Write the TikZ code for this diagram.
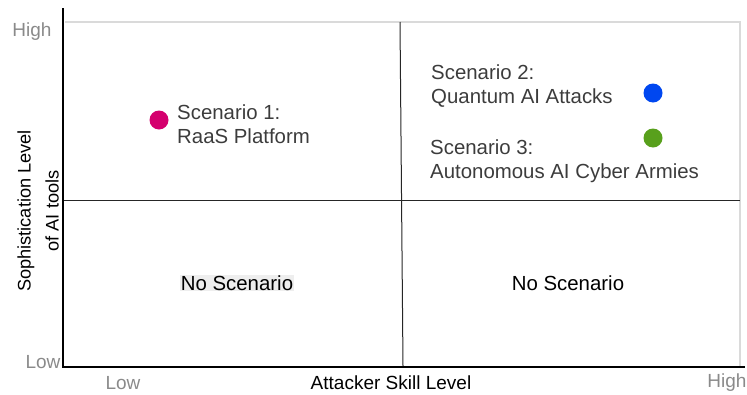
\documentclass[tikz,border=0pt]{standalone}
\usepackage{fontspec}
\setmainfont{Liberation Sans}
\definecolor{dotmag}{HTML}{D4006E}
\definecolor{dotblue}{HTML}{0047F0}
\definecolor{dotgreen}{HTML}{58A01C}
\definecolor{tickgray}{HTML}{8A8A8A}
\definecolor{framegray}{HTML}{DADADA}
\definecolor{txtgray}{HTML}{3C3C3C}
\definecolor{bggray}{HTML}{EEEEEE}
\tikzset{
  ticklbl/.style={text=tickgray, font=\fontsize{19}{22}\selectfont, inner sep=0pt},
  axlbl/.style={text=black, font=\fontsize{19}{22}\selectfont, inner sep=0pt},
  scen/.style={text=txtgray, font=\fontsize{20.4}{23.5}\selectfont, align=left, anchor=west, inner sep=0pt},
  quad/.style={text=black, font=\fontsize{20.4}{23.5}\selectfont, inner sep=1pt},
  dot/.style={circle, minimum size=19pt, inner sep=0pt, draw=none},
  axisline/.style={line width=2.5pt, black},
  frameline/.style={line width=1.5pt, framegray},
  divline/.style={line width=1pt, black!85}
}
\begin{document}
\begin{tikzpicture}[x=1pt,y=-1pt]
\useasboundingbox (0,0) rectangle (747,394);
% coordinates
\coordinate (ytop) at (63,8);
\coordinate (origin) at (63,367);
\coordinate (xend) at (745,367);
\coordinate (tl) at (65,22);
\coordinate (tr) at (740,22);
\coordinate (br) at (740,366);
\coordinate (hl) at (64,200);
\coordinate (hr) at (740,200);
\coordinate (vt) at (400,22);
\coordinate (vb) at (403,366);
% frame
\draw[frameline] (tl) -- (tr) -- (br);
\draw[divline] (hl) -- (hr);
\draw[divline] (vt) -- (vb);
\draw[axisline] (ytop) -- (origin) -- (xend);
% tick labels
\node[ticklbl] (yhigh) at (32,32) {High};
\node[ticklbl] (ylow) at (43,362) {Low};
\node[ticklbl] (xlow) at (123,383) {Low};
\node[ticklbl] (xhigh) at (727,383) {High};
\node[axlbl] (xlab) at (391,383) {Attacker Skill Level};
\node[axlbl, rotate=90, align=center, font=\fontsize{18.2}{28}\selectfont] (ylab) at (38,211) {Sophistication Level\\of AI tools};
% scenarios
\node[dot, fill=dotmag] (d1) at (159,120) {};
\node[scen] (s1) at (177,124) {Scenario 1:\\RaaS Platform};
\node[dot, fill=dotblue] (d2) at (653,93) {};
\node[scen] (s2) at (431,86) {Scenario 2:\\Quantum AI Attacks};
\node[dot, fill=dotgreen] (d3) at (653,138) {};
\node[scen] (s3) at (430,161) {Scenario 3:\\Autonomous AI Cyber Armies};
% quadrant labels
\node[quad, fill=bggray] (q1) at (237,283) {No Scenario};
\node[quad] (q2) at (568,283) {No Scenario};
\end{tikzpicture}
\end{document}
